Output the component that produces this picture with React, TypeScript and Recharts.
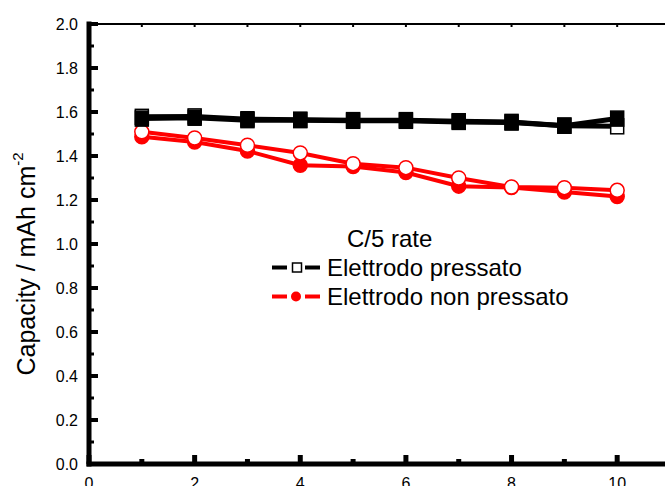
import React from 'react';
import { LineChart, Line, XAxis, YAxis, Legend, Label } from 'recharts';

// cycle number on x, capacity (mAh cm-2) on y
const cycles = [1, 2, 3, 4, 5, 6, 7, 8, 9, 10];
const pressatoPieno = [1.570, 1.574, 1.563, 1.563, 1.560, 1.560, 1.555, 1.552, 1.538, 1.570];
const pressatoVuoto = [1.578, 1.580, 1.567, 1.565, 1.563, 1.563, 1.558, 1.555, 1.538, 1.535];
const nonPressatoPieno = [1.487, 1.464, 1.423, 1.358, 1.352, 1.325, 1.263, 1.257, 1.236, 1.216];
const nonPressatoVuoto = [1.510, 1.482, 1.449, 1.414, 1.365, 1.347, 1.300, 1.259, 1.256, 1.244];

const xTicks = [0, 1, 2, 3, 4, 5, 6, 7, 8, 9, 10, 11];
const yTicks = [0, 0.1, 0.2, 0.3, 0.4, 0.5, 0.6, 0.7, 0.8, 0.9, 1.0, 1.1, 1.2, 1.3, 1.4, 1.5, 1.6, 1.7, 1.8, 1.9, 2.0];

const legendTitle = 'C/5 rate';
const legendEntries = [
  { name: 'Elettrodo pressato', color: '#000000', marker: 'square' },
  { name: 'Elettrodo non pressato', color: '#ff0000', marker: 'circle' },
];

const data = cycles.map((c, i) => ({
  cycle: c,
  pp: pressatoPieno[i],
  pv: pressatoVuoto[i],
  np: nonPressatoPieno[i],
  nv: nonPressatoVuoto[i],
}));

const FONT = '"Liberation Sans", Arial, Helvetica, sans-serif';
const PLOT_LEFT = 89;
const PLOT_TOP = 24;
const PLOT_BOTTOM = 464;
const RED = '#ff0000';

const YTick = (props: any) => {
  const { y, payload } = props;
  const v = payload.value as number;
  const major = Math.round(v * 10) % 2 === 0;
  return (
    <g>
      <line x1={PLOT_LEFT} x2={PLOT_LEFT + (major ? 9 : 5)} y1={y} y2={y} stroke="#000" strokeWidth={major ? 4 : 3} />
      {major && (
        <text x={78} y={y + 6} textAnchor="end" fontSize={16} fontFamily={FONT} fill="#000">
          {v.toFixed(1)}
        </text>
      )}
    </g>
  );
};

const XTick = (props: any) => {
  const { x, payload } = props;
  const major = payload.value % 2 === 0;
  return (
    <g>
      <line x1={x} x2={x} y1={PLOT_BOTTOM} y2={PLOT_BOTTOM - (major ? 9 : 5)} stroke="#000" strokeWidth={5} />
      {major && (
        <text x={x} y={489} textAnchor="middle" fontSize={16} fontFamily={FONT} fill="#000">
          {payload.value}
        </text>
      )}
    </g>
  );
};

const TopTick = (props: any) => {
  const { x } = props;
  return <line x1={x} x2={x} y1={PLOT_TOP} y2={PLOT_TOP + 3} stroke="#000" strokeWidth={2} />;
};

const YTitle = () => (
  <text
    transform="translate(35,264) rotate(-90)"
    textAnchor="middle"
    fontSize={25}
    fontFamily={FONT}
    fill="#000"
  >
    Capacity / mAh cm<tspan dy={-12} fontSize={15}>-2</tspan>
  </text>
);

const squareDot = (fill: string) => (props: any) => (
  <rect
    key={`sq-${fill}-${props.index}`}
    x={props.cx - 6.5}
    y={props.cy - 7.5}
    width={13}
    height={15}
    fill={fill}
    stroke="#000"
    strokeWidth={1.5}
  />
);

const circleDot = (fill: string) => (props: any) => (
  <circle key={`ci-${fill}-${props.index}`} cx={props.cx} cy={props.cy} r={7} fill={fill} stroke={RED} strokeWidth={1.5} />
);

const LegendBox = () => (
  <div style={{ fontFamily: FONT, fontSize: 24, color: '#000', lineHeight: '29px' }}>
    <div style={{ paddingLeft: 77 }}>{legendTitle}</div>
    {legendEntries.map((e) => (
      <div key={e.name} style={{ display: 'flex', alignItems: 'center', height: 29 }}>
        <svg width={57} height={29} style={{ display: 'block' }}>
          <line x1={2} x2={17} y1={14.5} y2={14.5} stroke={e.color} strokeWidth={4} />
          {e.marker === 'square' ? (
            <rect x={22.5} y={10} width={9} height={9} fill="#fff" stroke={e.color} strokeWidth={1.5} />
          ) : (
            <circle cx={26} cy={14.5} r={5} fill={e.color} />
          )}
          <line x1={35} x2={50} y1={14.5} y2={14.5} stroke={e.color} strokeWidth={4} />
        </svg>
        <span style={{ whiteSpace: 'nowrap' }}>{e.name}</span>
      </div>
    ))}
  </div>
);

export default function App() {
  return (
    <div style={{ position: 'absolute', left: 0, top: 0, width: 665, height: 486, overflow: 'hidden', background: '#fff' }}>
      <LineChart width={682} height={500} data={data} margin={{ top: 23, right: 12, bottom: 6, left: 29 }}>
        <XAxis
          dataKey="cycle"
          type="number"
          domain={[0, 11]}
          ticks={xTicks}
          interval={0}
          height={30}
          axisLine={{ stroke: '#000', strokeWidth: 5, strokeLinecap: 'square' }}
          tickLine={false}
          tick={<XTick />}
        />
        <XAxis
          xAxisId="top"
          dataKey="cycle"
          type="number"
          orientation="top"
          domain={[0, 11]}
          ticks={xTicks}
          interval={0}
          height={1}
          axisLine={{ stroke: '#000', strokeWidth: 2 }}
          tickLine={false}
          tick={<TopTick />}
        />
        <YAxis
          type="number"
          domain={[0, 2]}
          ticks={yTicks}
          interval={0}
          width={60}
          axisLine={{ stroke: '#000', strokeWidth: 5, strokeLinecap: 'square' }}
          tickLine={false}
          tick={<YTick />}
        >
          <Label content={<YTitle />} />
        </YAxis>
        <Legend layout="horizontal" verticalAlign="middle" content={<LegendBox />} wrapperStyle={{ left: 270, top: 224, width: 360, height: 90 }} />
        <Line type="linear" dataKey="np" name="Elettrodo non pressato" stroke={RED} strokeWidth={4} dot={circleDot(RED)} isAnimationActive={false} />
        <Line type="linear" dataKey="nv" stroke={RED} strokeWidth={4} dot={circleDot('#fff')} legendType="none" isAnimationActive={false} />
        <Line type="linear" dataKey="pv" name="Elettrodo pressato" stroke="#000" strokeWidth={5} dot={squareDot('#fff')} isAnimationActive={false} />
        <Line type="linear" dataKey="pp" stroke="#000" strokeWidth={5} dot={squareDot('#000')} legendType="none" isAnimationActive={false} />
      </LineChart>
    </div>
  );
}
